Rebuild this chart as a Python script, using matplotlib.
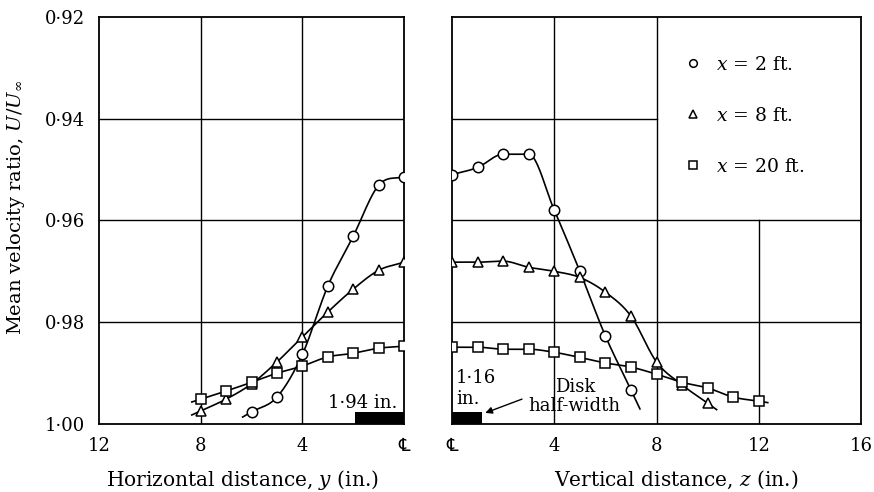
import matplotlib.pyplot as plt
import numpy as np
from matplotlib.lines import Line2D

plt.rcParams["font.family"] = ["DejaVu Serif", "DejaVu Sans"]
plt.rcParams["mathtext.fontset"] = "dejavuserif"

# horizontal traverse (left panel), distance y from centre-line in inches
y_dist_2ft = [0, 1, 2, 3, 4, 5, 6]
u_y_2ft = [0.9514, 0.9531, 0.9631, 0.9729, 0.9863, 0.9947, 0.9976]
y_dist_8ft = [0, 1, 2, 3, 4, 5, 6, 7, 8]
u_y_8ft = [0.9682, 0.9698, 0.9735, 0.9780, 0.9829, 0.9878, 0.9921, 0.9951, 0.9974]
y_dist_20ft = [0, 1, 2, 3, 4, 5, 6, 7, 8]
u_y_20ft = [0.9847, 0.9851, 0.9861, 0.9868, 0.9886, 0.9900, 0.9918, 0.9935, 0.9951]

# vertical traverse (right panel), distance z from centre-line in inches
z_dist_2ft = [0, 1, 2, 3, 4, 5, 6, 7]
u_z_2ft = [0.9510, 0.9496, 0.9470, 0.9470, 0.9580, 0.9700, 0.9827, 0.9933]
z_dist_8ft = [0, 1, 2, 3, 4, 5, 6, 7, 8, 9, 10]
u_z_8ft = [0.9682, 0.9682, 0.9680, 0.9692, 0.9700, 0.9712, 0.9741, 0.9788,
           0.9878, 0.9923, 0.9959]
z_dist_20ft = [0, 1, 2, 3, 4, 5, 6, 7, 8, 9, 10, 11, 12]
u_z_20ft = [0.9849, 0.9849, 0.9853, 0.9853, 0.9859, 0.9869, 0.9880, 0.9888,
            0.9902, 0.9918, 0.9929, 0.9947, 0.9955]

series_labels = ["$x$ = 2 ft.", "$x$ = 8 ft.", "$x$ = 20 ft."]
series_markers = ["o", "^", "s"]

disk_half_y = 1.94
disk_half_z = 1.16

y_ticks = [0.92, 0.94, 0.96, 0.98, 1.00]
y_tick_labels = ["0·92", "0·94", "0·96", "0·98", "1·00"]
left_xticks = [12, 8, 4, 0]
left_xtick_labels = ["12", "8", "4", "℄"]
right_xticks = [0, 4, 8, 12, 16]
right_xtick_labels = ["℄", "4", "8", "12", "16"]


def smooth(xs, ys, tail=0.35, n=24):
    # cubic hermite through the points (flat where the trend turns),
    # plus a short straight tail past the last point
    x = np.asarray(xs, float)
    y = np.asarray(ys, float)
    d = np.diff(y) / np.diff(x)
    m = np.empty_like(x)
    m[0], m[-1] = d[0], d[-1]
    for i in range(1, len(x) - 1):
        if d[i - 1] * d[i] <= 0:
            m[i] = 0.0
        else:
            m[i] = (y[i + 1] - y[i - 1]) / (x[i + 1] - x[i - 1])
    xx, yy = [], []
    for i in range(len(x) - 1):
        h = x[i + 1] - x[i]
        t = np.linspace(0, 1, n)
        h00 = 2 * t**3 - 3 * t**2 + 1
        h10 = t**3 - 2 * t**2 + t
        h01 = -2 * t**3 + 3 * t**2
        h11 = t**3 - t**2
        xx.extend(x[i] + t * h)
        yy.extend(h00 * y[i] + h10 * h * m[i] + h01 * y[i + 1] + h11 * h * m[i + 1])
    xx.append(x[-1] + tail)
    yy.append(y[-1] + m[-1] * tail)
    return np.array(xx), np.array(yy)


def draw_series(ax, xs, ys, marker):
    sx, sy = smooth(xs, ys)
    ax.plot(sx, sy, color="black", lw=1.2, zorder=2)
    ax.plot(xs, ys, ls="none", marker=marker, ms=7.5, mfc="white",
            mec="black", mew=1.1, zorder=3)


fig = plt.figure(figsize=(8.74, 4.92), dpi=100)
ax1 = fig.add_axes([0.1133, 0.138, 0.349, 0.828])
ax2 = fig.add_axes([0.5172, 0.138, 0.468, 0.828])

for ax in (ax1, ax2):
    ax.set_ylim(1.00, 0.92)
    ax.set_yticks(y_ticks)
    ax.tick_params(length=0, labelsize=13)
    for sp in ax.spines.values():
        sp.set_linewidth(1.3)

# left panel
ax1.set_xlim(12, 0)
ax1.set_xticks(left_xticks)
ax1.set_xticklabels(left_xtick_labels)
ax1.set_yticklabels(y_tick_labels)
ax1.tick_params(axis="x", pad=9)
ax1.tick_params(axis="y", pad=10)
for gx in (8, 4):
    ax1.axvline(gx, color="black", lw=1.0, zorder=1)
for gy in (0.94, 0.96, 0.98):
    ax1.axhline(gy, color="black", lw=1.0, zorder=1)

draw_series(ax1, y_dist_2ft, u_y_2ft, "o")
draw_series(ax1, y_dist_8ft, u_y_8ft, "^")
draw_series(ax1, y_dist_20ft, u_y_20ft, "s")

ax1.bar(0, 0.0024, width=disk_half_y, bottom=0.9976, align="edge",
        color="black", zorder=2)
ax1.text(0.25, 0.9958, f"{disk_half_y:.2f} in.".replace(".", "·", 1),
         ha="right", va="center", fontsize=13)

ax1.set_xlabel("Horizontal distance, $y$ (in.)", fontsize=14.5)
ax1.xaxis.set_label_coords(0.469, -0.108)
ax1.set_ylabel(r"Mean velocity ratio, $U/U_\infty$", fontsize=14)
ax1.yaxis.set_label_coords(-0.235, 0.532)

# right panel
ax2.set_xlim(0, 16)
ax2.set_xticks(right_xticks)
ax2.set_xticklabels(right_xtick_labels)
ax2.set_yticklabels([])
ax2.tick_params(axis="x", pad=9)
for gx in (4, 8):
    ax2.axvline(gx, color="black", lw=1.0, zorder=1)
ax2.axvline(12, ymin=0, ymax=0.5, color="black", lw=1.0, zorder=1)
ax2.axhline(0.94, xmin=0, xmax=0.5, color="black", lw=1.0, zorder=1)
for gy in (0.96, 0.98):
    ax2.axhline(gy, color="black", lw=1.0, zorder=1)

draw_series(ax2, z_dist_2ft, u_z_2ft, "o")
draw_series(ax2, z_dist_8ft, u_z_8ft, "^")
draw_series(ax2, z_dist_20ft, u_z_20ft, "s")

ax2.bar(0, 0.0024, width=disk_half_z, bottom=0.9976, align="edge",
        color="black", zorder=2)
ax2.text(0.15, 0.9930, f"{disk_half_z:.2f}".replace(".", "·") + "\nin.",
         ha="left", va="center", fontsize=13, linespacing=1.15)
ax2.annotate("Disk\nhalf-width", xy=(1.3, 0.9978), xytext=(4.8, 0.9946),
             ha="center", va="center", fontsize=13, linespacing=1.05,
             arrowprops=dict(arrowstyle="-|>", color="black", lw=1.0,
                             relpos=(0.0, 0.5), shrinkA=3, shrinkB=0,
                             mutation_scale=10))

ax2.set_xlabel("Vertical distance, $z$ (in.)", fontsize=14.5)
ax2.xaxis.set_label_coords(0.548, -0.108)

handles = [Line2D([], [], ls="none", marker=mk, ms=5.5, mfc="white",
                  mec="black", mew=1.1) for mk in series_markers]
ax2.legend(handles, series_labels, loc="upper left",
           bbox_to_anchor=(0.525, 0.945), frameon=False, fontsize=13.5,
           handlelength=1.0, handletextpad=0.7, labelspacing=1.75)

fig.savefig("out.png", dpi=100)
